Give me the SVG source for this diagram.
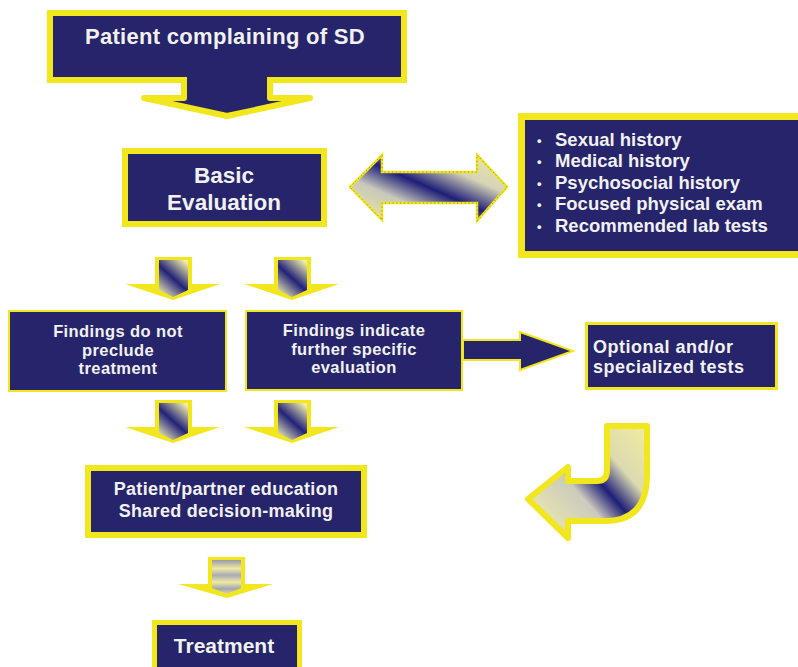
<svg xmlns="http://www.w3.org/2000/svg" width="798" height="667" viewBox="0 0 798 667">
<style>
.box{fill:#26246a;stroke:#f2e61c}
.t{font-family:"Liberation Sans",Arial,sans-serif;font-weight:bold;fill:#f1f1f1;text-anchor:middle}
.tl{font-family:"Liberation Sans",Arial,sans-serif;font-weight:bold;fill:#f1f1f1}
.yel{fill:#f2e61c}
</style>
<defs>
<linearGradient id="gSmall" x1="0.85" y1="0" x2="0.15" y2="1">
<stop offset="0" stop-color="#efeca8"/>
<stop offset="0.5" stop-color="#22227a"/>
<stop offset="1" stop-color="#ecebb4"/>
</linearGradient>
<linearGradient id="gDouble" gradientUnits="userSpaceOnUse" x1="456" y1="129" x2="404" y2="247">
<stop offset="0" stop-color="#f0eda4"/>
<stop offset="0.3" stop-color="#d6d4b6"/>
<stop offset="0.5" stop-color="#1e1e78"/>
<stop offset="0.68" stop-color="#c8c8bc"/>
<stop offset="1" stop-color="#f1ef98"/>
</linearGradient>
<linearGradient id="gCurve" gradientUnits="userSpaceOnUse" x1="660" y1="442" x2="545" y2="543">
<stop offset="0" stop-color="#efec9e"/>
<stop offset="0.3" stop-color="#dcdab0"/>
<stop offset="0.47" stop-color="#1e1e78"/>
<stop offset="0.62" stop-color="#cccbbc"/>
<stop offset="1" stop-color="#efedac"/>
</linearGradient>
<linearGradient id="gStripe" x1="0" y1="0" x2="0" y2="1">
<stop offset="0" stop-color="#9a9aaa"/>
<stop offset="0.25" stop-color="#eeeaa4"/>
<stop offset="0.45" stop-color="#aaaab4"/>
<stop offset="0.65" stop-color="#eeeaa4"/>
<stop offset="0.85" stop-color="#a4a4b0"/>
<stop offset="1" stop-color="#dcdab0"/>
</linearGradient>
<g id="smallArrow">
<polygon class="yel" points="-18,0 19,0 19,27 47,27 0,43 -48,27 -18,27"/>
<polygon fill="url(#gSmall)" points="-14,3 15,3 15,33 0,40 -14,33"/>
</g>
</defs>

<g id="n-patient">
<rect class="box" x="50" y="13" width="354" height="67" stroke-width="6"/>
<text class="t" x="225" y="44" font-size="22" letter-spacing="0.3">Patient complaining of SD</text>
</g>

<g id="n-basic">
<rect class="box" x="125" y="151" width="199" height="73" stroke-width="6"/>
<text class="t" x="224" y="183" font-size="22.5">Basic</text>
<text class="t" x="224" y="210" font-size="22.5">Evaluation</text>
</g>

<g id="n-history">
<rect class="box" x="521.5" y="116.5" width="290" height="138" stroke-width="7"/>
<g class="tl" font-size="18.5">
<text x="537" y="145" font-size="13">•</text>
<text x="555" y="146">Sexual history</text>
<text x="537" y="166" font-size="13">•</text>
<text x="555" y="167">Medical history</text>
<text x="537" y="188" font-size="13">•</text>
<text x="555" y="189">Psychosocial history</text>
<text x="537" y="209" font-size="13">•</text>
<text x="555" y="210">Focused physical exam</text>
<text x="537" y="231" font-size="13">•</text>
<text x="555" y="232">Recommended lab tests</text>
</g>
</g>

<g id="n-noprecl">
<rect class="box" x="9" y="311" width="217" height="80" stroke-width="2"/>
<text class="t" x="118" y="337" font-size="16.5" letter-spacing="0.4">Findings do not</text>
<text class="t" x="118" y="356" font-size="16.5" letter-spacing="0.4">preclude</text>
<text class="t" x="118" y="374" font-size="16.5" letter-spacing="0.4">treatment</text>
</g>

<g id="n-further">
<rect class="box" x="246" y="311" width="216" height="79" stroke-width="2"/>
<text class="t" x="354" y="336" font-size="16.5" letter-spacing="0.4">Findings indicate</text>
<text class="t" x="354" y="355" font-size="16.5" letter-spacing="0.4">further specific</text>
<text class="t" x="354" y="373" font-size="16.5" letter-spacing="0.4">evaluation</text>
</g>

<g id="n-optional">
<rect class="box" x="586.5" y="323.5" width="190" height="65" stroke-width="3"/>
<text class="tl" x="593" y="353" font-size="18" letter-spacing="0.5">Optional and/or</text>
<text class="tl" x="593" y="373" font-size="18" letter-spacing="0.5">specialized tests</text>
</g>

<g id="n-education">
<rect class="box" x="88" y="468" width="276" height="67" stroke-width="6"/>
<text class="t" x="226" y="495" font-size="18" letter-spacing="0.3">Patient/partner education</text>
<text class="t" x="226" y="517" font-size="18" letter-spacing="0.3">Shared decision-making</text>
</g>

<g id="n-treatment">
<rect class="box" x="154.5" y="622.5" width="145" height="60" stroke-width="5"/>
<text class="t" x="224" y="653" font-size="21">Treatment</text>
</g>

<g id="connectors">
<path d="M184 77 L184 98 L144 98 L227 116 L310 98 L270 98 L270 77" fill="#26246a" stroke="#f2e61c" stroke-width="6" stroke-linejoin="round"/>
<polygon points="350,187 382,155 382,172 477,172 477,155 507,187 477,221 477,203 382,203 382,220" fill="url(#gDouble)" stroke="#f2e61c" stroke-width="2.5"/>
<polygon points="350,187 382,155 382,172 477,172 477,155 507,187 477,221 477,203 382,203 382,220" fill="none" stroke="#3a3a70" stroke-width="1" stroke-dasharray="1.2 2.6" opacity="0.5"/>
<use href="#smallArrow" x="173" y="257"/>
<use href="#smallArrow" x="292" y="257"/>
<use href="#smallArrow" x="173" y="400"/>
<use href="#smallArrow" x="292" y="400"/>
<polygon points="463,340 520,340 520,332 573,351 520,370 520,360 463,360" fill="#26246a" stroke="#f2e61c" stroke-width="2" stroke-linejoin="miter"/>
<path d="M607 426 L647 426 L647 475 Q647 521 605 521 L568 521 L568 538 L528 499 L568 467 L568 481 L597 481 Q607 481 607 470 Z" fill="url(#gCurve)" stroke="#f2e61c" stroke-width="6" stroke-linejoin="round"/>
<polygon class="yel" points="208,557 245,557 245,584 273,584 227,598 178,584 208,584"/>
<polygon fill="url(#gStripe)" points="212,560 241,560 241,588 227,594 212,588"/>
</g>
</svg>
